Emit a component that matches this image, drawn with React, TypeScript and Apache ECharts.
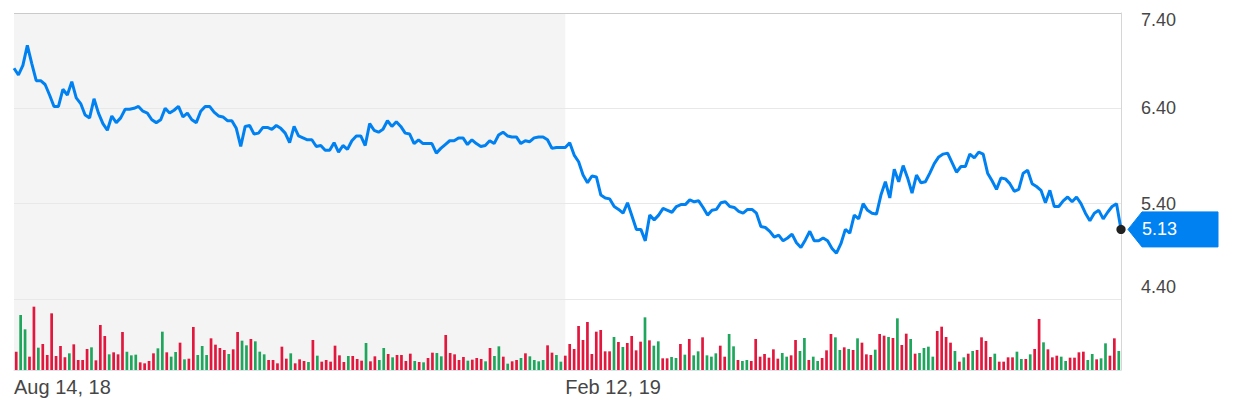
import { useEffect, useRef } from "react";
import * as echarts from "echarts";

// ---------- data ----------
const startDate = "2018-08-14";
const marketHolidays = [
  "2018-09-03", "2018-11-22", "2018-12-05", "2018-12-25", "2019-01-01",
  "2019-01-21", "2019-02-18", "2019-04-19", "2019-05-27", "2019-07-04",
];
const labelDates = ["2018-08-14", "2019-02-12"];
const shadeEndDate = "2019-02-12";
const priceTicks = [4.4, 5.4, 6.4, 7.4];

const prices = [
  6.82, 6.75, 6.85, 7.06, 6.87, 6.69, 6.69, 6.65, 6.54, 6.42,
  6.42, 6.60, 6.54, 6.68, 6.51, 6.45, 6.33, 6.30, 6.50, 6.35,
  6.24, 6.17, 6.32, 6.25, 6.30, 6.39, 6.39, 6.40, 6.42, 6.37,
  6.35, 6.28, 6.25, 6.28, 6.40, 6.35, 6.38, 6.42, 6.31, 6.35,
  6.28, 6.25, 6.37, 6.42, 6.42, 6.36, 6.32, 6.31, 6.27, 6.27,
  6.19, 6.00, 6.21, 6.22, 6.13, 6.14, 6.20, 6.20, 6.18, 6.22,
  6.19, 6.14, 6.04, 6.21, 6.11, 6.09, 6.07, 6.07, 6.00, 6.01,
  5.96, 5.96, 6.04, 5.94, 6.01, 5.97, 6.06, 6.11, 6.11, 6.01,
  6.24, 6.17, 6.15, 6.18, 6.27, 6.21, 6.26, 6.21, 6.14, 6.13,
  6.03, 6.07, 6.03, 6.03, 6.03, 5.93, 5.98, 6.02, 6.06, 6.06,
  6.09, 6.09, 6.02, 6.07, 6.03, 6.00, 6.01, 6.06, 6.03, 6.12,
  6.15, 6.11, 6.10, 6.10, 6.03, 6.06, 6.05, 6.09, 6.10, 6.10,
  6.07, 5.98, 5.99, 5.99, 5.99, 6.04, 5.91, 5.84, 5.70, 5.62,
  5.69, 5.68, 5.49, 5.46, 5.45, 5.37, 5.34, 5.30, 5.41, 5.27,
  5.13, 5.13, 5.01, 5.28, 5.23, 5.28, 5.35, 5.33, 5.31, 5.37,
  5.39, 5.39, 5.44, 5.42, 5.43, 5.36, 5.28, 5.33, 5.34, 5.41,
  5.42, 5.37, 5.36, 5.32, 5.30, 5.34, 5.34, 5.30, 5.16, 5.15,
  5.11, 5.05, 5.07, 5.01, 5.04, 5.08, 4.99, 4.94, 5.02, 5.11,
  5.01, 5.01, 5.04, 5.01, 4.93, 4.88, 4.98, 5.13, 5.09, 5.28,
  5.24, 5.40, 5.33, 5.30, 5.29, 5.49, 5.63, 5.46, 5.76, 5.63,
  5.80, 5.67, 5.51, 5.70, 5.62, 5.63, 5.72, 5.82, 5.89, 5.92,
  5.93, 5.83, 5.73, 5.79, 5.79, 5.92, 5.88, 5.94, 5.92, 5.72,
  5.64, 5.55, 5.67, 5.66, 5.61, 5.53, 5.55, 5.72, 5.75, 5.61,
  5.58, 5.54, 5.41, 5.54, 5.37, 5.37, 5.43, 5.47, 5.42, 5.47,
  5.40, 5.30, 5.22, 5.30, 5.33, 5.24, 5.31, 5.37, 5.40, 5.13,
];

const volumes = [
  55, 165, 122, 40, 190, 67, 78, 45, 170, 42,
  72, 38, 50, 77, 30, 30, 63, 68, 29, 135,
  102, 47, 53, 47, 114, 55, 44, 46, 23, 20,
  27, 50, 65, 115, 53, 40, 54, 82, 32, 34,
  129, 45, 72, 45, 95, 76, 66, 60, 48, 62,
  114, 88, 74, 93, 86, 55, 47, 30, 30, 20,
  70, 34, 50, 20, 32, 27, 24, 90, 43, 25,
  30, 25, 73, 44, 24, 42, 42, 33, 28, 81,
  26, 41, 30, 66, 48, 38, 45, 45, 27, 49,
  27, 24, 23, 36, 52, 51, 41, 105, 51, 47,
  30, 39, 28, 31, 36, 33, 26, 66, 42, 71,
  40, 19, 26, 30, 36, 50, 41, 30, 26, 30,
  74, 52, 45, 25, 43, 78, 63, 132, 90, 144,
  48, 115, 120, 56, 56, 99, 84, 69, 81, 102,
  59, 85, 158, 89, 73, 86, 35, 35, 39, 36,
  78, 46, 93, 44, 56, 98, 44, 40, 50, 73,
  40, 108, 71, 30, 27, 30, 27, 93, 40, 48,
  37, 62, 34, 51, 40, 44, 90, 57, 96, 30,
  40, 27, 36, 59, 108, 98, 60, 68, 63, 60,
  95, 82, 47, 45, 61, 108, 103, 99, 96, 155,
  75, 109, 93, 49, 51, 66, 70, 40, 117, 130,
  99, 82, 57, 25, 38, 49, 57, 60, 98, 87,
  39, 49, 25, 25, 38, 38, 55, 33, 33, 47,
  63, 153, 83, 62, 38, 43, 40, 27, 37, 37,
  53, 55, 30, 48, 32, 35, 80, 43, 95, 57,
];

// G = up day (green), R = down day (red)
const volumeDirection = [
  "RGGRRGRRRR", "RRGRRRRGRR", "RGRRRGGGRR", "RRGGRGGRGR", "RGGGRRRRGR",
  "RGGRGGGRRR", "RRGRRRGRGR", "RRRRRGRRRG", "RRGGRGRRRR", "GRGRRGGRRR",
  "RRGRRRGRGG", "RGRRGRGGGG", "RRGGRRRRRR", "RRRRRGRGRR", "RRGRGGRRGG",
  "RGRGGRGGGR", "RGGRGGRRRR", "RRRGGRRGGR", "GGRRRGGRGR", "GRRRGRRGRG",
  "RRGRGGGGRR", "RRGRGRGRRR", "RGRRRRGGRG", "RRGRRRGGRR", "RRGGRGGRRG",
].join("");

// ---------- helpers ----------
const MONTHS = ["Jan", "Feb", "Mar", "Apr", "May", "Jun", "Jul", "Aug", "Sep", "Oct", "Nov", "Dec"];

function tradingDays(start: string, count: number, skip: string[]): string[] {
  const out: string[] = [];
  const d = new Date(start + "T00:00:00Z");
  while (out.length < count) {
    const wd = d.getUTCDay();
    const iso = d.toISOString().slice(0, 10);
    if (wd !== 0 && wd !== 6 && !skip.includes(iso)) out.push(iso);
    d.setUTCDate(d.getUTCDate() + 1);
  }
  return out;
}

function fmtDate(iso: string): string {
  const [y, m, d] = iso.split("-");
  return `${MONTHS[Number(m) - 1]} ${Number(d)}, ${y.slice(2)}`;
}

const dates = tradingDays(startDate, prices.length, marketHolidays);

const FONT = "'Liberation Sans', Arial, Helvetica, sans-serif";
const TEXT = "#464646";
const BLUE = "#0081f2";
const GREEN = "#1fa65d";
const RED = "#e2173d";

export default function App() {
  const ref = useRef<HTMLDivElement>(null);

  useEffect(() => {
    document.body.style.margin = "0";
    if (!ref.current) return;
    const chart = echarts.init(ref.current, undefined, { renderer: "svg" });

    const pMin = priceTicks[0];
    const pMax = priceTicks[priceTicks.length - 1];

    const option: any = {
      animation: false,
      grid: [
        { left: 14, top: 13, width: 1107, height: 286 },
        { left: 14, top: 299, width: 1107, height: 71 },
      ],
      xAxis: [
        {
          type: "category",
          gridIndex: 0,
          data: dates,
          boundaryGap: false,
          axisLine: { show: false },
          axisTick: { show: false },
          splitLine: { show: false },
          axisLabel: {
            interval: (_i: number, v: string) => labelDates.includes(v),
            formatter: (v: string) => fmtDate(v),
            align: "left",
            margin: 78,
            fontSize: 20,
            color: TEXT,
            fontFamily: FONT,
          },
        },
        {
          type: "category",
          gridIndex: 1,
          data: dates,
          boundaryGap: true,
          axisLine: { show: true, lineStyle: { color: "#dbe3ea", width: 1 } },
          axisTick: { show: false },
          axisLabel: { show: false },
          splitLine: { show: false },
        },
      ],
      yAxis: [
        {
          type: "value",
          gridIndex: 0,
          position: "right",
          min: pMin,
          max: pMax,
          interval: 1,
          axisLine: { show: true, lineStyle: { color: "#d6d6d6" } },
          axisTick: { show: false },
          splitLine: {
            show: true,
            lineStyle: { color: ["#e8e8e8", "#e8e8e8", "#e8e8e8", "#cacaca"], width: 1 },
          },
          axisLabel: {
            margin: 20,
            color: TEXT,
            fontSize: 18,
            fontFamily: FONT,
            formatter: (v: number) => {
              const s = v.toFixed(2);
              if (Math.abs(v - pMax) < 1e-6) return `{top|${s}}`;
              if (Math.abs(v - pMin) < 1e-6) return `{bot|${s}}`;
              return `{n|${s}}`;
            },
            rich: {
              top: { padding: [14, 0, 0, 0], fontSize: 18, color: TEXT, fontFamily: FONT },
              bot: { padding: [0, 0, 24, 0], fontSize: 18, color: TEXT, fontFamily: FONT },
              n: { fontSize: 18, color: TEXT, fontFamily: FONT },
            },
          },
        },
        {
          type: "value",
          gridIndex: 1,
          position: "right",
          min: 0,
          max: 213,
          axisLine: { show: true, lineStyle: { color: "#d6d6d6" } },
          axisTick: { show: false },
          axisLabel: { show: false },
          splitLine: { show: false },
        },
      ],
      series: [
        {
          type: "line",
          xAxisIndex: 0,
          yAxisIndex: 0,
          data: prices,
          symbol: "none",
          lineStyle: { color: BLUE, width: 3 },
          z: 3,
        },
        {
          type: "bar",
          xAxisIndex: 1,
          yAxisIndex: 1,
          barWidth: 2.7,
          data: volumes.map((v, i) => ({
            value: v,
            itemStyle: { color: volumeDirection[i] === "G" ? GREEN : RED },
          })),
          z: 2,
        },
      ],
    };
    chart.setOption(option);

    const lastIdx = prices.length - 1;
    const last = prices[lastIdx];
    const [px, py] = chart.convertToPixel({ xAxisIndex: 0, yAxisIndex: 0 } as any, [lastIdx, last]) as number[];
    const sx0 = chart.convertToPixel({ xAxisIndex: 0 } as any, 0) as number;
    const sx1 = chart.convertToPixel({ xAxisIndex: 0 } as any, dates.indexOf(shadeEndDate)) as number;
    const yTop = chart.convertToPixel({ yAxisIndex: 0 } as any, pMax) as number;
    const yBot = chart.convertToPixel({ yAxisIndex: 1 } as any, 0) as number;

    chart.setOption({
      graphic: [
        {
          type: "rect",
          silent: true,
          z: -10,
          shape: { x: sx0, y: yTop, width: sx1 - sx0, height: yBot - yTop },
          style: { fill: "#f4f4f4" },
        },
        {
          type: "polygon",
          silent: true,
          z: 10,
          shape: {
            points: [
              [px + 7, py],
              [px + 21, py - 17.5],
              [px + 97, py - 17.5],
              [px + 97, py + 17.5],
              [px + 21, py + 17.5],
            ],
          },
          style: { fill: BLUE, stroke: BLUE, lineWidth: 1, lineJoin: "round" },
        },
        {
          type: "text",
          silent: true,
          z: 11,
          x: px + 21,
          y: py,
          style: {
            text: last.toFixed(2),
            fill: "#ffffff",
            font: `18px ${FONT}`,
            align: "left",
            verticalAlign: "middle",
          },
        },
        {
          type: "circle",
          silent: true,
          z: 12,
          shape: { cx: px, cy: py, r: 4.6 },
          style: { fill: "#222222" },
        },
      ],
    });

    return () => chart.dispose();
  }, []);

  return <div ref={ref} style={{ width: 1233, height: 411 }} />;
}
